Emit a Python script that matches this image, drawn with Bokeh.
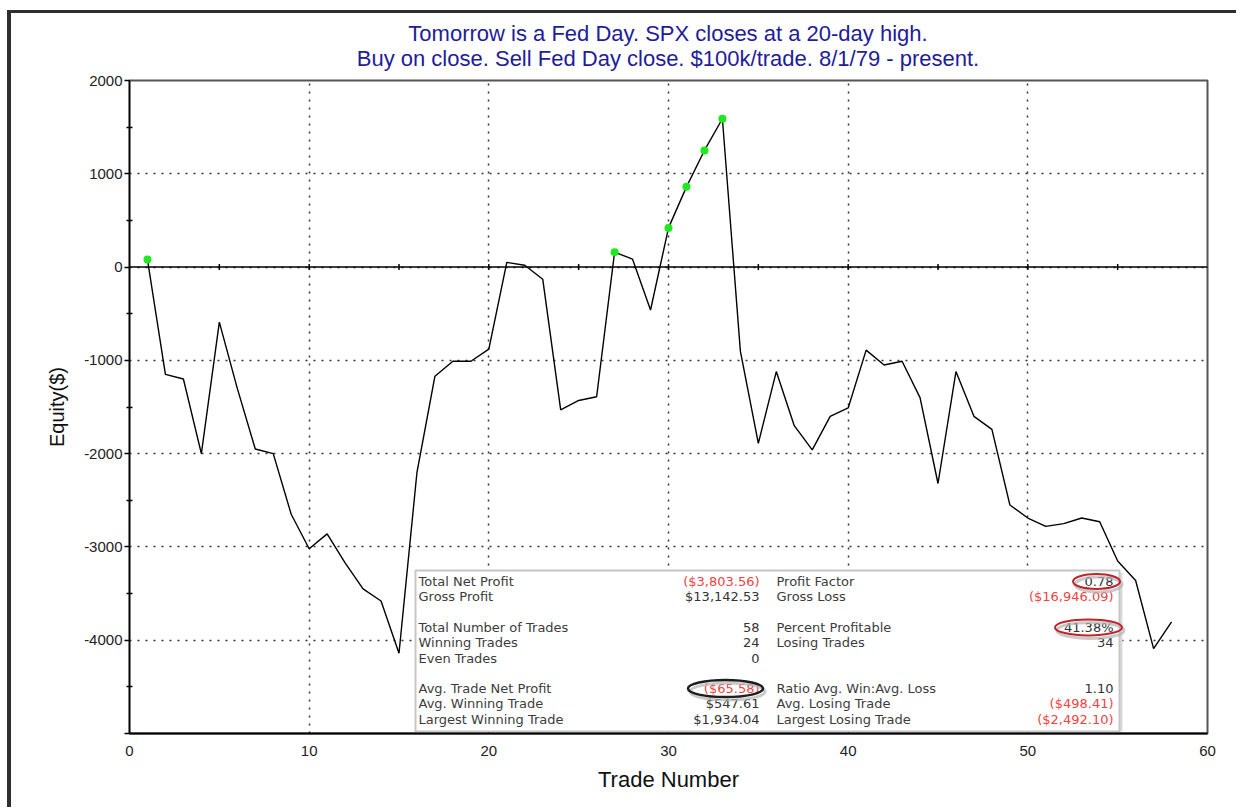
import numpy as np
from bokeh.plotting import figure
from bokeh.layouts import column
from bokeh.models import Range1d, FixedTicker, Span, Div
from bokeh.core.properties import value
from bokeh.embed import file_html
from bokeh.resources import INLINE

# ---------------- data ----------------
trade_number = list(range(1, 59))
equity = [80, -1150, -1200, -2000, -590, -1300, -1950, -2000, -2650, -3020,
          -2860, -3170, -3450, -3580, -4140, -2200, -1170, -1010, -1010, -880,
          50, 20, -130, -1530, -1430, -1390, 160, 85, -460, 420,
          860, 1250, 1590, -900, -1890, -1120, -1700, -1960, -1600, -1510,
          -890, -1050, -1010, -1400, -2320, -1120, -1600, -1740, -2550, -2690,
          -2780, -2750, -2690, -2730, -3150, -3360, -4090, -3804]

title_line1 = "Tomorrow is a Fed Day. SPX closes at a 20-day high."
title_line2 = "Buy on close. Sell Fed Day close. $100k/trade. 8/1/79 - present."
x_label = "Trade Number"
y_label = "Equity($)"
x_ticks = [0, 10, 20, 30, 40, 50, 60]
y_ticks = [-5000, -4000, -3000, -2000, -1000, 0, 1000, 2000]
y_tick_labels = ["", "-4000", "-3000", "-2000", "-1000", "0", "1000", "2000"]
y_minor_ticks = [-4500, -3500, -2500, -1500, -500, 500, 1500]
zero_line_ticks = [5, 10, 15, 20, 25, 30, 35, 40, 45, 50, 55]

stat_labels_left = ["Total Net Profit", "Gross Profit", "Total Number of Trades",
                    "Winning Trades", "Even Trades", "Avg. Trade Net Profit",
                    "Avg. Winning Trade", "Largest Winning Trade"]
stat_values_left = ["($3,803.56)", "$13,142.53", "58", "24", "0", "($65.58)",
                    "$547.61", "$1,934.04"]
stat_rows_left = [0, 1, 3, 4, 5, 7, 8, 9]
stat_labels_right = ["Profit Factor", "Gross Loss", "Percent Profitable",
                     "Losing Trades", "Ratio Avg. Win:Avg. Loss",
                     "Avg. Losing Trade", "Largest Losing Trade"]
stat_values_right = ["0.78", "($16,946.09)", "41.38%", "34", "1.10",
                     "($498.41)", "($2,492.10)"]
stat_rows_right = [0, 1, 3, 4, 7, 8, 9]

# ---------------- layout constants ----------------
X0, X1, Y0, Y1 = 0, 60, -5000, 2000
FRAME_W, FRAME_H = 1078, 653
W = 1225
TITLE_H = 60
H = 734
ML, MT, MR, MB = 118, 7, 29, 74
TITLE_COLOR = "#221c9a"


def xd(px):
    return X0 + px * (X1 - X0) / FRAME_W


def yd(py):
    return Y1 - py * (Y1 - Y0) / FRAME_H


UPX_Y = (Y1 - Y0) / FRAME_H
UPX_X = (X1 - X0) / FRAME_W

# title block: two lines centred over the plot frame
title_shift = 2 * ML + FRAME_W - W
title_html = (
    '<div style="margin-left:%dpx;width:%dpx;padding-top:8px;text-align:center;'
    "font-family:'Liberation Sans';font-size:22px;line-height:25px;"
    'color:%s;white-space:nowrap;">%s<br>%s</div>'
    % (title_shift, W - title_shift, TITLE_COLOR, title_line1, title_line2)
)
title_div = Div(text=title_html, width=W, height=TITLE_H, margin=(0, 0, 0, 0),
                disable_math=True)

p = figure(width=W, height=H, x_range=Range1d(X0, X1), y_range=Range1d(Y0, Y1),
           output_backend="svg", toolbar_location=None, title=None,
           min_border_left=ML, min_border_top=MT, min_border_right=MR,
           min_border_bottom=MB, background_fill_color="white",
           border_fill_color="white", margin=(0, 0, 0, 0))

p.outline_line_color = "#555555"
p.outline_line_width = 2

# axes
xa = p.xaxis[0]
xa.ticker = FixedTicker(ticks=x_ticks)
xa.major_tick_out = 0
xa.major_tick_in = 0
xa.minor_tick_out = 0
xa.minor_tick_in = 0
xa.major_label_standoff = 12
xa.axis_line_color = "black"
xa.axis_line_width = 2
xa.major_label_text_font = "Liberation Sans"
xa.major_label_text_font_size = "15px"
xa.major_label_text_color = "#222222"
xa.axis_label = x_label
xa.axis_label_text_font = "Liberation Sans"
xa.axis_label_text_font_size = "22px"
xa.axis_label_text_font_style = "normal"
xa.axis_label_text_color = "#111111"
xa.axis_label_standoff = 8

ya = p.yaxis[0]
ya.ticker = FixedTicker(ticks=y_ticks, minor_ticks=y_minor_ticks)
ya.major_label_overrides = {t: s for t, s in zip(y_ticks, y_tick_labels)}
ya.major_tick_out = 5
ya.major_tick_in = 0
ya.minor_tick_out = 3
ya.minor_tick_in = 3
ya.major_tick_line_color = "black"
ya.minor_tick_line_color = "black"
ya.major_tick_line_width = 1.5
ya.minor_tick_line_width = 1.5
ya.major_label_standoff = 2
ya.axis_line_color = "black"
ya.axis_line_width = 1.5
ya.major_label_text_font = "Liberation Sans"
ya.major_label_text_font_size = "15px"
ya.major_label_text_color = "#222222"
ya.axis_label = y_label
ya.axis_label_text_font = "Liberation Sans"
ya.axis_label_text_font_size = "20px"
ya.axis_label_text_font_style = "normal"
ya.axis_label_text_color = "#111111"
ya.axis_label_standoff = 13

for g in (p.xgrid[0], p.ygrid[0]):
    g.grid_line_color = "#333333"
    g.grid_line_width = 1.5
    g.grid_line_dash = "2 6"

# zero line with ticks
p.add_layout(Span(location=0, dimension="width", line_color="black", line_width=1.5))
tick_h = 3 * UPX_Y
p.segment(x0=zero_line_ticks, y0=[-tick_h] * len(zero_line_ticks),
          x1=zero_line_ticks, y1=[tick_h] * len(zero_line_ticks),
          line_color="black", line_width=1.5)

# equity curve
p.line(trade_number, equity, line_color="black", line_width=1.4)

eq = np.array(equity, dtype=float)
prev_max = np.maximum.accumulate(np.concatenate([[-np.inf], eq[:-1]]))
is_high = eq > prev_max
p.scatter(np.array(trade_number)[is_high], eq[is_high], size=8,
          fill_color="#1ee81e", line_color=None)

# statistics box
BOX_L, BOX_R, BOX_T, BOX_B = 286, 990, 490, 651
p.quad(left=xd(BOX_L + 2), right=xd(BOX_R + 3), top=yd(BOX_T + 2), bottom=yd(BOX_B),
       fill_color="#dcdcdc", line_color=None)
p.quad(left=xd(BOX_L), right=xd(BOX_R), top=yd(BOX_T), bottom=yd(BOX_B),
       fill_color="white", line_color="#c6c6c6", line_width=2)

ROW0, STEP = 501, 15.3
COL_L1, COL_V1, COL_L2, COL_V2 = 289, 630, 647, 984


def row_y(r):
    return yd(ROW0 + r * STEP)


def val_color(v):
    return "#f04444" if v.startswith("(") else "#333333"


font = value("DejaVu Sans")
fs = "13px"
p.text(x=[xd(COL_L1)] * len(stat_labels_left), y=[row_y(r) for r in stat_rows_left],
       text=stat_labels_left, text_font=font, text_font_size=fs,
       text_baseline="middle", text_align="left", text_color="#3c3c3c")
p.text(x=[xd(COL_V1)] * len(stat_values_left), y=[row_y(r) for r in stat_rows_left],
       text=stat_values_left, text_font=font, text_font_size=fs,
       text_baseline="middle", text_align="right",
       text_color=[val_color(v) for v in stat_values_left])
p.text(x=[xd(COL_L2)] * len(stat_labels_right), y=[row_y(r) for r in stat_rows_right],
       text=stat_labels_right, text_font=font, text_font_size=fs,
       text_baseline="middle", text_align="left", text_color="#3c3c3c")
p.text(x=[xd(COL_V2)] * len(stat_values_right), y=[row_y(r) for r in stat_rows_right],
       text=stat_values_right, text_font=font, text_font_size=fs,
       text_baseline="middle", text_align="right",
       text_color=[val_color(v) for v in stat_values_right])

# highlight ellipses: (column right edge px, row, center shift px, width px, height px, color, lw)
highlights = [
    (COL_V2, 0, -17, 47, 15, "#c0242a", 2),
    (COL_V2, 3, -25, 67, 16, "#c0242a", 2),
    (COL_V1, 7, -34, 75, 17, "#1e1e1e", 2.5),
]
for col, r, dx, w, h, c, lw in highlights:
    cx = xd(col + dx)
    cy = row_y(r)
    p.ellipse(x=[cx + 2 * UPX_X], y=[cy - 3 * UPX_Y], width=w * UPX_X, height=h * UPX_Y,
              fill_color=None, line_color="#b4b4b4", line_alpha=0.7, line_width=3)
    p.ellipse(x=[cx], y=[cy], width=w * UPX_X, height=h * UPX_Y,
              fill_color=None, line_color=c, line_width=lw)

layout = column(title_div, p, spacing=0)
layout.styles = {"margin-left": "7px", "margin-top": "10px",
                 "border-top": "3px solid #2e2e2e", "border-left": "4px solid #2e2e2e"}

open("out.html", "w").write(file_html(layout, INLINE))
